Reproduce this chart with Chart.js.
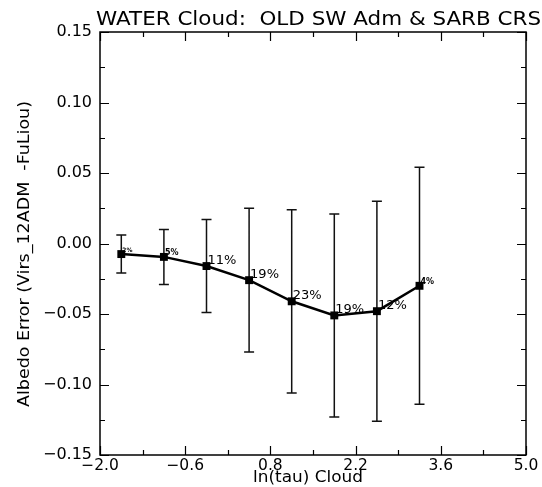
<!DOCTYPE html>
<html>
<head>
<meta charset="utf-8">
<script src="https://cdn.jsdelivr.net/npm/chart.js@4"></script>
<style>
  html, body { margin: 0; padding: 0; background: #fff; }
  #wrap { width: 542px; height: 487px; position: relative; }
</style>
</head>
<body>
<div id="wrap"><canvas id="albedo-chart"></canvas></div>
<script>
const titleText = 'WATER Cloud:  OLD SW Adm & SARB CRS';
const xTitle    = 'ln(tau) Cloud';
const yTitle    = 'Albedo Error (Virs_12ADM  -FuLiou)';

const lnTau    = [-1.65, -0.95, -0.25, 0.45, 1.15, 1.85, 2.55, 3.25];
const meanErr  = [-0.0075, -0.0095, -0.016, -0.026, -0.041, -0.051, -0.048, -0.030];
const stdErr   = [0.0135, 0.0195, 0.033, 0.051, 0.065, 0.072, 0.078, 0.084];
const pctLabel = ['2%', '5%', '11%', '19%', '23%', '19%', '12%', '4%'];

const FONT = 'DejaVu Sans';

function isMajor(v, step) {
  return Math.abs(Math.round(v / step) * step - v) < 1e-6;
}

function fmtMinus(s) {
  return s.replace('-', '\u2212');
}

// the original uses a wide vector font, so stretch text to its measured width
function stretchText(ctx, text, cx, cy, width, angle) {
  const w = ctx.measureText(text).width;
  ctx.save();
  ctx.translate(cx, cy);
  ctx.rotate(angle);
  ctx.scale(width / w, 1);
  ctx.textAlign = 'center';
  ctx.textBaseline = 'middle';
  ctx.fillText(text, 0, 0);
  ctx.restore();
}

// box frame + inward ticks on all four sides, titles
const framePlugin = {
  id: 'frame',
  afterDraw(chart) {
    const { ctx, chartArea: a, scales: { x, y } } = chart;
    ctx.save();
    ctx.strokeStyle = '#000';
    ctx.lineWidth = 1.5;
    ctx.strokeRect(a.left, a.top, a.right - a.left, a.bottom - a.top);
    ctx.lineWidth = 1.2;
    ctx.beginPath();
    x.ticks.forEach(t => {
      const px  = Math.round(x.getPixelForValue(t.value)) + 0.5;
      const len = isMajor(t.value + 2, 1.4) ? 9 : 5;
      ctx.moveTo(px, a.bottom); ctx.lineTo(px, a.bottom - len);
      ctx.moveTo(px, a.top);    ctx.lineTo(px, a.top + len);
    });
    y.ticks.forEach(t => {
      const py  = Math.round(y.getPixelForValue(t.value)) + 0.5;
      const len = isMajor(t.value, 0.05) ? 9 : 5;
      ctx.moveTo(a.left, py);  ctx.lineTo(a.left + len, py);
      ctx.moveTo(a.right, py); ctx.lineTo(a.right - len, py);
    });
    ctx.stroke();

    ctx.fillStyle = '#000';
    ctx.font = '19px "' + FONT + '"';
    stretchText(ctx, titleText, 318.5, 20, 445, 0);
    ctx.font = '15px "' + FONT + '"';
    stretchText(ctx, xTitle, 308, 478, 110, 0);
    stretchText(ctx, yTitle, 25, 254, 306, -Math.PI / 2);
    ctx.restore();
  }
};

const errorBarPlugin = {
  id: 'errorBars',
  beforeDatasetsDraw(chart) {
    const { ctx, scales: { x, y } } = chart;
    ctx.save();
    ctx.strokeStyle = '#111';
    ctx.lineWidth = 1.5;
    ctx.beginPath();
    lnTau.forEach((v, i) => {
      const px = x.getPixelForValue(v);
      const hi = y.getPixelForValue(meanErr[i] + stdErr[i]);
      const lo = y.getPixelForValue(meanErr[i] - stdErr[i]);
      ctx.moveTo(px, hi); ctx.lineTo(px, lo);
      ctx.moveTo(px - 5, hi); ctx.lineTo(px + 5, hi);
      ctx.moveTo(px - 5, lo); ctx.lineTo(px + 5, lo);
    });
    ctx.stroke();
    ctx.restore();
  }
};

const pctPlugin = {
  id: 'pctLabels',
  afterDatasetsDraw(chart) {
    const { ctx, scales: { x, y } } = chart;
    ctx.save();
    ctx.fillStyle = '#000';
    ctx.textBaseline = 'alphabetic';
    ctx.textAlign = 'left';
    lnTau.forEach((v, i) => {
      const pct = parseInt(pctLabel[i]);
      const px  = x.getPixelForValue(v);
      const py  = y.getPixelForValue(meanErr[i]);
      if (pct < 3)       ctx.font = 'bold 6px "' + FONT + '"';
      else if (pct < 10) ctx.font = 'bold 8px "' + FONT + '"';
      else               ctx.font = '13px "' + FONT + '"';
      ctx.fillText(pctLabel[i], px + 1, py - 2);
    });
    ctx.restore();
  }
};

const ctx = document.getElementById('albedo-chart').getContext('2d');
new Chart(ctx, {
  type: 'scatter',
  data: {
    datasets: [{
      data: lnTau.map((v, i) => ({ x: v, y: meanErr[i] })),
      showLine: true,
      borderColor: '#000',
      borderWidth: 2.5,
      tension: 0,
      pointStyle: 'rect',
      pointRadius: 5.6,
      pointBackgroundColor: '#000',
      pointBorderWidth: 0,
    }]
  },
  options: {
    responsive: true,
    maintainAspectRatio: false,
    animation: false,
    layout: { padding: { top: 32, right: 16, left: 0, bottom: 0 } },
    plugins: {
      legend:  { display: false },
      tooltip: { enabled: false },
      title:   { display: false },
    },
    scales: {
      x: {
        type: 'linear',
        min: -2.0,
        max: 5.0,
        afterFit: s => { s.height = 32; },
        afterBuildTicks: s => {
          s.ticks = [];
          for (let k = 0; k <= 10; k++) s.ticks.push({ value: +(-2 + k * 0.7).toFixed(1) });
        },
        ticks: {
          autoSkip: false,
          maxRotation: 0,
          padding: 2,
          color: '#000',
          font: { family: FONT, size: 15.5 },
          callback: (v, i) => i % 2 === 0 ? fmtMinus(v.toFixed(1)) : '',
        },
        grid:   { display: false, drawTicks: false },
        border: { display: false },
      },
      y: {
        type: 'linear',
        min: -0.15,
        max: 0.15,
        afterFit: s => { s.width = 100; },
        ticks: {
          stepSize: 0.025,
          autoSkip: false,
          padding: 8,
          color: '#000',
          font: { family: FONT, size: 16 },
          callback: v => isMajor(v, 0.05) ? fmtMinus(v.toFixed(2)) : '',
        },
        grid:   { display: false, drawTicks: false },
        border: { display: false },
      },
    },
  },
  plugins: [errorBarPlugin, pctPlugin, framePlugin],
});
</script>
</body>
</html>
